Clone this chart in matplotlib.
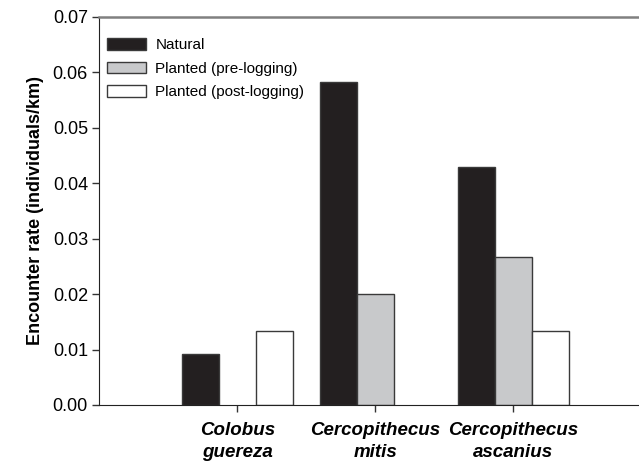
import numpy as np
import matplotlib.pyplot as plt
from matplotlib.patches import Patch

plt.rcParams['font.family'] = ['Liberation Sans', 'DejaVu Sans']

# Données
especes = ["Colobus\nguereza", "Cercopithecus\nmitis", "Cercopithecus\nascanius"]
series = ["Natural", "Planted (pre-logging)", "Planted (post-logging)"]
naturel = [0.0092, 0.0583, 0.0430]
plante_avant = [0.0, 0.0200, 0.0267]
plante_apres = [0.0133, 0.0, 0.0133]
couleurs = ["#231f20", "#c8c9cb", "#ffffff"]

fig = plt.figure(figsize=(6.39, 4.63), dpi=100)
ax = fig.add_axes([0.155, 0.1253, 0.843, 0.838])

x = np.arange(1, len(especes) + 1)
w = 0.268
for k, vals in enumerate([naturel, plante_avant, plante_apres]):
    for xi, v in zip(x, vals):
        if v > 0:
            ax.bar(xi + (k - 1) * w, v, w, color=couleurs[k],
                   edgecolor="#3a3a3a", linewidth=1.0)

ax.set_xlim(0, 3.9)
ax.set_ylim(0, 0.07)
ax.set_yticks(np.arange(0, 0.071, 0.01))
ax.set_yticklabels([f"{t:.2f}" for t in np.arange(0, 0.071, 0.01)], fontsize=13)
ax.set_xticks(x)
ax.set_xticklabels(especes, fontsize=13.5, fontweight="bold", style="italic",
                   linespacing=1.4)
ax.tick_params(axis="both", direction="out", length=5, width=1, color="#333333")
ax.tick_params(axis="x", pad=7)
ax.tick_params(axis="y", pad=3)
ax.set_ylabel("Encounter rate (individuals/km)", fontsize=13, fontweight="bold",
              labelpad=6)

ax.spines["right"].set_visible(False)
ax.spines["top"].set_color("#808080")
ax.spines["top"].set_linewidth(1.8)
ax.spines["left"].set_color("#222222")
ax.spines["bottom"].set_color("#222222")

poignees = [Patch(facecolor=c, edgecolor="#3a3a3a", linewidth=1.0) for c in couleurs]
ax.legend(poignees, series, loc="upper left", bbox_to_anchor=(0.015, 0.946),
          frameon=False, fontsize=11, handlelength=2.55, handleheight=0.8,
          handletextpad=0.6, labelspacing=0.62, borderaxespad=0, borderpad=0)

fig.savefig("out.png", dpi=100)
